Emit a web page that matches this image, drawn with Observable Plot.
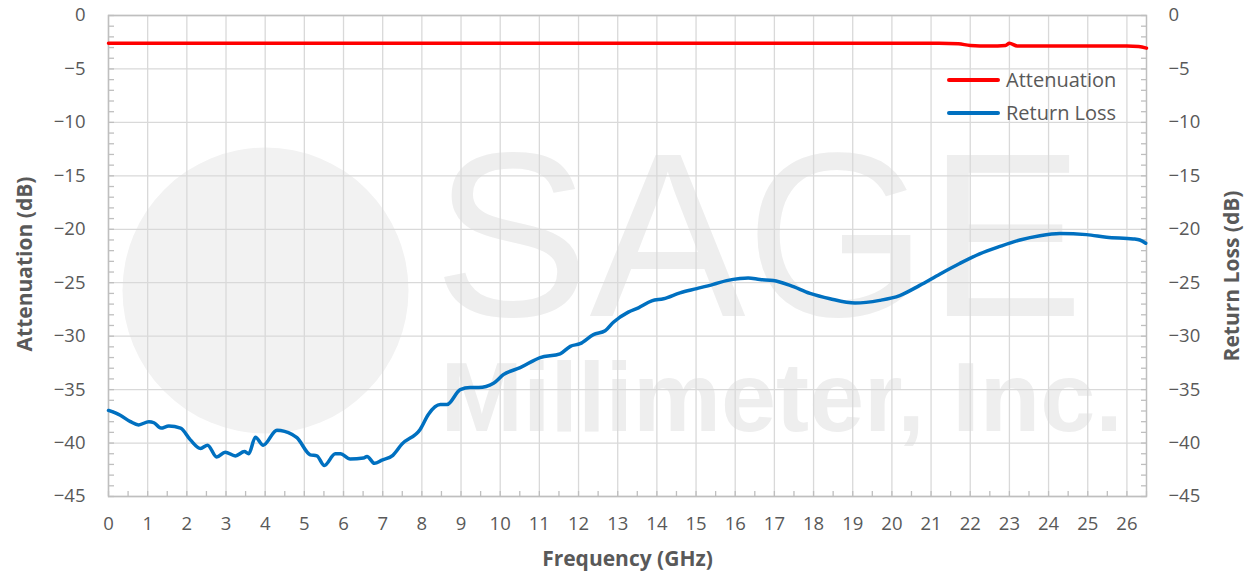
<!DOCTYPE html>
<html><head><meta charset="utf-8">
<script src="https://cdn.jsdelivr.net/npm/d3@7"></script>
<script src="https://cdn.jsdelivr.net/npm/@observablehq/plot@0.6"></script>
<style>
body{margin:0;background:#fff}
#wrap{position:relative;width:1245px;height:575px;font-family:"Open Sans",sans-serif;overflow:hidden}
#legend{position:absolute;left:947px;top:63px;font-size:20px;color:#595959;line-height:33px}
#legend .row{display:flex;align-items:center;white-space:nowrap}
#legend .sw{display:inline-block;width:53px;height:4px;margin-right:6px;border-radius:2px}
</style></head>
<body><div id="wrap"><div id="legend"></div></div>
<script>
// ---- data ----
const attFreq = [0, 2, 5, 8, 11, 14, 17, 20, 21.2, 21.7, 22.0, 22.5, 22.9, 23.0, 23.2, 24, 25, 26, 26.3, 26.5];
const attenuation = [-2.6, -2.6, -2.6, -2.6, -2.6, -2.6, -2.6, -2.6, -2.6, -2.65, -2.8, -2.85, -2.8, -2.6, -2.85, -2.85, -2.85, -2.85, -2.9, -3.05];

const rlFreq = [0, 0.3, 0.56, 0.77, 1.03, 1.16, 1.34, 1.54, 1.84, 2.09, 2.35, 2.53, 2.76, 2.98, 3.24, 3.47, 3.58, 3.75, 3.95, 4.3, 4.69, 4.81, 5.15, 5.32, 5.51, 5.79, 5.92, 6.17, 6.51, 6.6, 6.79, 6.98, 7.26, 7.49, 7.96, 8.17, 8.47, 8.64, 8.98, 9.23, 9.45, 9.83, 10.08, 10.51, 11.02, 11.53, 11.79, 12.04, 12.38, 12.68, 12.89, 13.27, 13.53, 13.87, 14.17, 14.59, 15.02, 15.44, 15.78, 16.12, 16.33, 16.63, 16.97, 17.4, 17.91, 18.42, 19.06, 19.69, 20.2, 20.71, 21.22, 21.73, 22.24, 22.76, 23.27, 23.78, 24.29, 24.97, 25.48, 26.16, 26.33, 26.48];
const returnLoss = [-36.95, -37.4, -38.0, -38.3, -38.0, -38.1, -38.6, -38.4, -38.6, -39.7, -40.5, -40.2, -41.3, -40.85, -41.2, -40.8, -41.0, -39.45, -40.2, -38.8, -39.2, -39.5, -41.1, -41.2, -42.1, -41.0, -41.0, -41.5, -41.4, -41.25, -41.9, -41.6, -41.15, -40.1, -38.7, -37.3, -36.4, -36.4, -35.0, -34.8, -34.8, -34.4, -33.6, -32.95, -32.0, -31.65, -30.95, -30.7, -29.85, -29.5, -28.7, -27.75, -27.35, -26.7, -26.5, -25.95, -25.55, -25.15, -24.8, -24.6, -24.55, -24.7, -24.8, -25.25, -26.0, -26.5, -26.9, -26.65, -26.2, -25.25, -24.2, -23.2, -22.3, -21.6, -21.0, -20.6, -20.4, -20.5, -20.75, -20.9, -21.0, -21.3];

const xTicks = d3.range(0, 27, 1);
const xMinorTicks = d3.range(0, 26.6, 0.5);
const yTicks = d3.range(-45, 1, 5);
const yMinorTicks = d3.range(-45, 1, 1);
const seriesNames = ["Attenuation", "Return Loss"];
const seriesColors = ["#ff0000", "#0070c0"];
const xTitle = "Frequency (GHz)";
const yLeftTitle = "Attenuation (dB)";
const yRightTitle = "Return Loss (dB)";
const watermark = ["SAGE", "Millimeter, Inc."];

const attData = attFreq.map((f, i) => ({f, v: attenuation[i]}));
const rlData = rlFreq.map((f, i) => ({f, v: returnLoss[i]}));

const gridStyle = {stroke: "#d9d9d9", strokeOpacity: 1, strokeWidth: 1.3};
const axisColor = "#bfbfbf";
const textColor = "#595959";

const chart = Plot.plot({
  width: 1245, height: 575,
  marginLeft: 108, marginRight: 99, marginTop: 15, marginBottom: 79,
  style: {fontFamily: "Open Sans, sans-serif", fontSize: "18.5px", color: textColor, background: "transparent", overflow: "visible"},
  x: {domain: [0, 26.5]},
  y: {domain: [-45, 0]},
  marks: [
    // watermark
    Plot.dot([0], {frameAnchor: "top-left", dx: 157, dy: 275, r: 143, fill: "#f2f2f2", stroke: null}),
    Plot.text([watermark[0]], {frameAnchor: "top-left", dx: 325, dy: 300, text: d => d, textAnchor: "start", lineAnchor: "bottom", fontSize: 234, fill: "#eeeeee", fontFamily: "Liberation Sans, sans-serif"}),
    Plot.text([watermark[1]], {frameAnchor: "top-left", dx: 332, dy: 415, text: d => d, textAnchor: "start", lineAnchor: "bottom", fontSize: 99, fill: "#eeeeee", fontFamily: "Liberation Sans, sans-serif", fontWeight: "bold"}),
    // grid
    Plot.gridX(xTicks, gridStyle),
    Plot.gridY(yTicks, gridStyle),
    // minor ticks
    Plot.axisY(yMinorTicks, {anchor: "left", tickSize: -6, text: null, stroke: axisColor, strokeWidth: 1.3, label: null}),
    Plot.axisY(yMinorTicks, {anchor: "right", tickSize: -6, text: null, stroke: axisColor, strokeWidth: 1.3, label: null}),
    Plot.axisX(xMinorTicks, {anchor: "bottom", tickSize: -5, text: null, stroke: axisColor, strokeWidth: 1.3, label: null}),
    // labels
    Plot.axisY(yTicks, {anchor: "left", tickSize: 0, tickPadding: 23, label: null, fill: textColor}),
    Plot.axisY(yTicks, {anchor: "right", tickSize: 0, tickPadding: 22, label: null, fill: textColor}),
    Plot.axisX(xTicks, {anchor: "bottom", tickSize: 0, tickPadding: 20, label: null, fill: textColor}),
    Plot.frame({stroke: axisColor, strokeWidth: 1.5}),
    // series
    Plot.line(attData, {x: "f", y: "v", stroke: seriesColors[0], strokeWidth: 3.5, curve: "monotone-x"}),
    Plot.line(rlData, {x: "f", y: "v", stroke: seriesColors[1], strokeWidth: 3.5, curve: "monotone-x"}),
    // axis titles
    Plot.text([xTitle], {frameAnchor: "bottom", dy: 63, lineAnchor: "middle", textAnchor: "middle", text: d => d, fontWeight: "bold", fontSize: 21, fill: textColor}),
    Plot.text([yLeftTitle], {frameAnchor: "left", dx: -83, dy: 8, rotate: -90, textAnchor: "middle", lineAnchor: "middle", text: d => d, fontWeight: "bold", fontSize: 21, fill: textColor}),
    Plot.text([yRightTitle], {frameAnchor: "right", dx: 86, dy: 20, rotate: -90, textAnchor: "middle", lineAnchor: "middle", text: d => d, fontWeight: "bold", fontSize: 21, fill: textColor})
  ]
});
const wrap = document.getElementById("wrap");
wrap.insertBefore(chart, wrap.firstChild);

const legend = document.getElementById("legend");
seriesNames.forEach((name, i) => {
  const row = document.createElement("div");
  row.className = "row";
  const sw = document.createElement("span");
  sw.className = "sw";
  sw.style.background = seriesColors[i];
  row.appendChild(sw);
  row.appendChild(document.createTextNode(name));
  legend.appendChild(row);
});
</script>
</body></html>
